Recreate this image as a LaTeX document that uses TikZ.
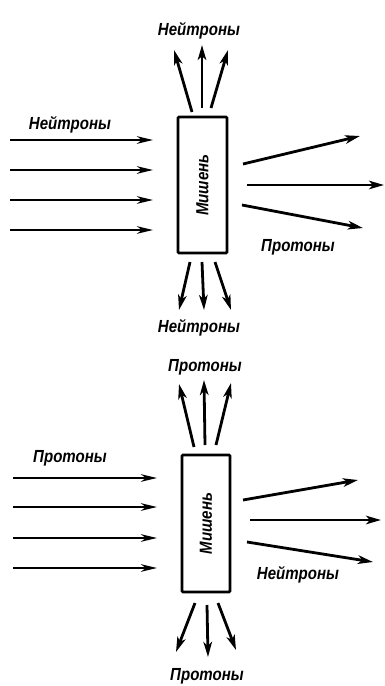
\documentclass[tikz,border=0pt]{standalone}
\usepackage{fontspec}
\setmainfont{Liberation Sans}
\newfontfamily\lblfont[FakeStretch=0.86]{Liberation Sans}
\usetikzlibrary{arrows.meta}
\tikzset{
  ray/.style={line width=2.8pt, -{Stealth[length=15pt,width=8.5pt,inset=4pt]}},
  beam/.style={line width=2.6pt, -{Stealth[length=16pt,width=7.5pt,inset=5pt]}},
  target/.style={draw, line width=2.8pt, rounded corners=1pt, inner sep=0pt},
  lbl/.style={font=\lblfont\fontsize{17.5}{19}\selectfont\bfseries\itshape, inner sep=0pt},
}
\begin{document}
\begin{tikzpicture}[x=1pt,y=-1pt]
\useasboundingbox (0,0) rectangle (384,686);

% ---------- upper panel: neutrons on the target ----------
\node[target, minimum width=49pt, minimum height=136pt] (t1) at (202.5,185) {};
\node[lbl, rotate=90] at (t1.center) {Мишень};
\foreach \n/\x/\y in {
  u1s/192/112, u1e/174/50, u2s/202/108, u2e/202/45, u3s/211/108, u3e/228/50,
  l1s/10/140, l1e/153/140, l2s/10/170, l2e/153/170, l3s/10/200, l3e/153/200, l4s/10/230, l4e/153/230,
  r1s/243/164, r1e/360/136, r2s/247/185, r2e/384/185, r3s/242/205, r3e/363/228,
  d1s/190/262, d1e/179/310, d2s/202/262, d2e/204/310, d3s/215/262, d3e/231/310}
  \coordinate (\n) at (\x,\y);
\foreach \a in {u1,u2,u3,r1,r2,r3,d1,d2,d3} \draw[ray] (\a s) -- (\a e);
\foreach \a in {l1,l2,l3,l4} \draw[beam] (\a s) -- (\a e);
\node[lbl] (nt1) at (199,31) {Нейтроны};
\node[lbl] (nl1) at (70,125) {Нейтроны};
\node[lbl] (pr1) at (298,247) {Протоны};
\node[lbl] (nb1) at (199,328) {Нейтроны};

% ---------- lower panel: protons on the target ----------
\node[target, minimum width=48pt, minimum height=137pt] (t2) at (206,523.5) {};
\node[lbl, rotate=90] at (t2.center) {Мишень};
\foreach \n/\x/\y in {
  U1s/194/447, U1e/179/384, U2s/205/445, U2e/204/380, U3s/216/445, U3e/231/383,
  L1s/13/478, L1e/157/478, L2s/13/507, L2e/157/507, L3s/13/538, L3e/157/538, L4s/13/568, L4e/157/568,
  R1s/243/500, R1e/358/480, R2s/250/520, R2e/381/520, R3s/247/542, R3e/373/562,
  D1s/195/603, D1e/176/652, D2s/207/605, D2e/208/657, D3s/218/603, D3e/236/650}
  \coordinate (\n) at (\x,\y);
\foreach \a in {U1,U2,U3,R1,R2,R3,D1,D2,D3} \draw[ray] (\a s) -- (\a e);
\foreach \a in {L1,L2,L3,L4} \draw[beam] (\a s) -- (\a e);
\node[lbl] (pt2) at (205,367) {Протоны};
\node[lbl] (pl2) at (70,458) {Протоны};
\node[lbl] (nr2) at (298,575) {Нейтроны};
\node[lbl] (pb2) at (207,676) {Протоны};
\end{tikzpicture}
\end{document}
